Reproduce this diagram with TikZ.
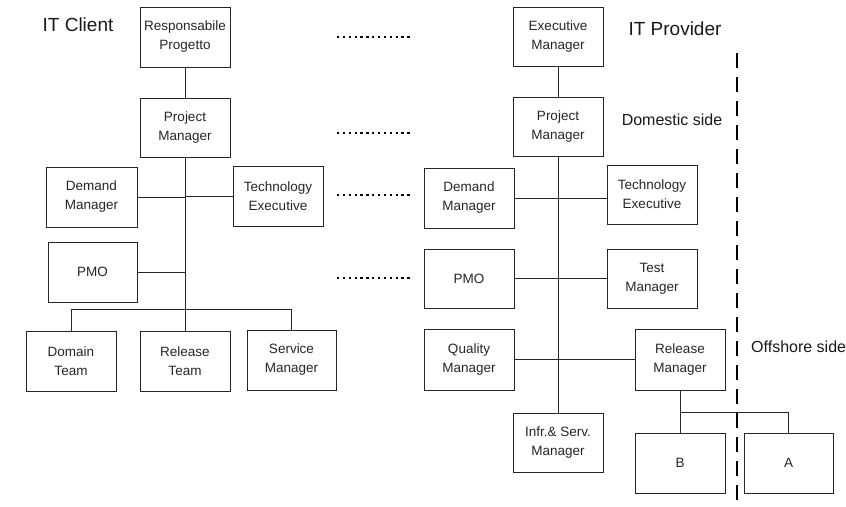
\documentclass[tikz,border=0pt]{standalone}
\usepackage{fontspec}
\setmainfont{Liberation Sans}
\begin{document}
\begin{tikzpicture}[x=1pt,y=-1pt,
  box/.style={draw=black!85,line width=1pt,minimum width=90pt,minimum height=60pt,inner sep=0pt,align=center,text=black!85,font=\fontsize{13.5}{19}\selectfont},
  conn/.style={draw=black!85,line width=1pt},
  dotrow/.style={draw=black,line width=2.3pt,dash pattern=on 2.3pt off 3.55pt},
  bigtitle/.style={font=\fontsize{19}{22}\selectfont,text=black!90,inner sep=0pt},
  sidetitle/.style={font=\fontsize{16}{19}\selectfont,text=black!90,inner sep=0pt}]
\useasboundingbox (0,0) rectangle (846,506);
\fill[white] (0,0) rectangle (846,506);
% ---------- IT Client ----------
\node[bigtitle] (clientT) at (78,25) {IT Client};
\node[box] (crp) at (185,37) {Responsabile\\Progetto};
\node[box,minimum height=59pt] (cpm) at (185,127.5) {Project\\Manager};
\node[box,minimum width=91pt] (cdm) at (91.5,197) {Demand\\Manager};
\node[box] (cte) at (278,196) {Technology\\Executive};
\node[box,minimum width=89pt] (cpmo) at (92.5,272) {PMO};
\node[box] (cdt) at (71,361) {Domain\\Team};
\node[box] (crt) at (185,361) {Release\\Team};
\node[box,minimum width=89pt] (csm) at (291.5,360) {Service\\Manager};
\coordinate (cbus) at (185,309);
\coordinate (cbusL) at (71,309);
\coordinate (cbusR) at (291.5,309);
\draw[conn] (crp.south) -- (cpm.north);
\draw[conn] (cpm.south) -- (crt.north);
\draw[conn] (cdm.east) -- (cdm.east -| cpm.south);
\draw[conn] (cte.west) -- (cte.west -| cpm.south);
\draw[conn] (cpmo.east) -- (cpmo.east -| cpm.south);
\draw[conn] (cdt.north) -- (cbusL) -- (cbusR) -- (csm.north);
% ---------- dotted links ----------
\coordinate (d1a) at (337,37); \coordinate (d1b) at (413,37);
\coordinate (d2a) at (337,133); \coordinate (d2b) at (413,133);
\coordinate (d3a) at (337,195); \coordinate (d3b) at (413,195);
\coordinate (d4a) at (337,278); \coordinate (d4b) at (413,278);
\draw[dotrow] (d1a) -- (d1b);
\draw[dotrow] (d2a) -- (d2b);
\draw[dotrow] (d3a) -- (d3b);
\draw[dotrow] (d4a) -- (d4b);
% ---------- IT Provider ----------
\node[bigtitle] (provT) at (675,29) {IT Provider};
\node[sidetitle] (domT) at (672,120) {Domestic side};
\node[sidetitle,anchor=west] (offT) at (751,347) {Offshore side};
\node[box,minimum height=59pt] (pem) at (558,36.5) {Executive\\Manager};
\node[box,minimum height=59pt] (ppm) at (558,126.5) {Project\\Manager};
\node[box] (pdm) at (469,198) {Demand\\Manager};
\node[box,minimum height=59pt] (pte) at (652,194.5) {Technology\\Executive};
\node[box,minimum height=59pt] (ppmo) at (469,278.5) {PMO};
\node[box,minimum height=59pt] (ptm) at (652,278.5) {Test\\Manager};
\node[box,minimum height=61pt] (pqm) at (469,359.5) {Quality\\Manager};
\node[box,minimum height=61pt] (prm) at (680,359.5) {Release\\Manager};
\node[box,minimum height=59pt] (pis) at (558,442.5) {Infr.\& Serv.\\Manager};
\node[box] (pb) at (680,463) {B};
\node[box,minimum width=89pt] (pa) at (788.5,463) {A};
\coordinate (pbus) at (680,412);
\coordinate (pbusR) at (788.5,412);
\draw[conn] (pem.south) -- (ppm.north);
\draw[conn] (ppm.south) -- (pis.north);
\draw[conn] (pdm.east) -- (pte.west |- pdm.east);
\draw[conn] (ppmo.east) -- (ptm.west);
\draw[conn] (pqm.east) -- (prm.west);
\draw[conn] (prm.south) -- (pb.north);
\draw[conn] (pbus) -- (pbusR) -- (pa.north);
% ---------- offshore boundary ----------
\coordinate (sepT) at (737,53);
\coordinate (sepB) at (737,506);
\draw[line width=2pt,dash pattern=on 15pt off 9pt] (sepT) -- (sepB);
\end{tikzpicture}
\end{document}
